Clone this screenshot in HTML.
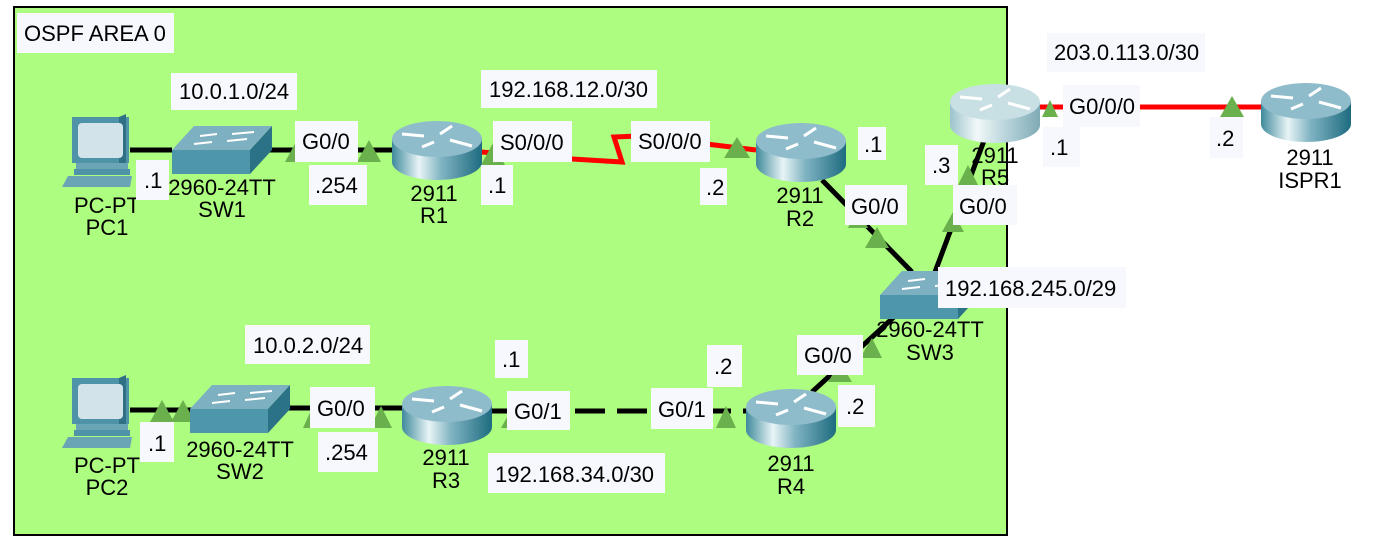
<!DOCTYPE html>
<html><head><meta charset="utf-8"><style>
html,body{margin:0;padding:0;background:#fff;}
svg{display:block;font-family:"Liberation Sans",sans-serif;}
</style></head><body>
<svg width="1388" height="548" viewBox="0 0 1388 548" xmlns="http://www.w3.org/2000/svg">
<defs>
<linearGradient id="rb" x1="0" x2="1" y1="0" y2="0">
<stop offset="0" stop-color="#3f8a9c"/><stop offset="0.3" stop-color="#e8f4f6"/><stop offset="0.55" stop-color="#7fb3c2"/><stop offset="1" stop-color="#1e6b80"/></linearGradient>
<linearGradient id="rb2" x1="0" x2="1" y1="0" y2="0">
<stop offset="0" stop-color="#9cc3cc"/><stop offset="0.3" stop-color="#f2f8f9"/><stop offset="0.6" stop-color="#bcd7dd"/><stop offset="1" stop-color="#7faab6"/></linearGradient>
<g id="router">
<path d="M0,19 L0,42 A45,18 0 0 0 90,42 L90,19 Z" fill="url(#rb)"/>
<ellipse cx="45" cy="19" rx="45" ry="18" fill="#8fbccb"/>
<g stroke="#fff" stroke-width="3" fill="none">
<path d="M10,14 L32,16"/><path d="M48,14 L60,6"/><path d="M58,20 L80,26"/><path d="M30,27 L42,22"/>
</g></g>
<g id="router2">
<path d="M0,19 L0,42 A45,18 0 0 0 90,42 L90,19 Z" fill="url(#rb2)"/>
<ellipse cx="45" cy="19" rx="45" ry="18" fill="#c8dfe4"/>
<g stroke="#fff" stroke-width="3" fill="none">
<path d="M10,14 L32,16"/><path d="M48,14 L60,6"/><path d="M58,20 L80,26"/><path d="M30,27 L42,22"/>
</g></g>
<g id="pc">
<rect x="10" y="0" width="57" height="46" fill="#4f93a8"/>
<polygon points="57,0 64,-3 64,46 57,46" fill="#2f7085"/>
<rect x="16" y="6" width="45" height="35" rx="4" fill="#d2e4ea"/>
<rect x="14" y="46" width="52" height="6" fill="#6aa5b6"/>
<rect x="12" y="52" width="56" height="6" fill="#4f93a8"/>
<polygon points="6,59 70,59 68,70 0,70" fill="#6aa5b6"/>
</g>
<g id="sw">
<polygon points="0,24 22,0 100,0 78,24" fill="#7db0c0"/>
<rect x="0" y="24" width="78" height="24" fill="#4e97ab"/>
<polygon points="78,24 100,0 100,24 78,48" fill="#2b7287"/>
<g stroke="#fff" stroke-width="2"><path d="M28,10 L45,8"/><path d="M60,8 L82,6"/><path d="M22,18 L40,16"/><path d="M55,15 L75,13"/></g>
</g>
</defs>
<rect x="14" y="7" width="993" height="528" fill="#acfd80" stroke="#000" stroke-width="2"/>

<g stroke="#000" stroke-width="5" fill="none">
<line x1="130" y1="150" x2="172" y2="150"/>
<line x1="268" y1="150" x2="392" y2="150"/>
<line x1="130" y1="410" x2="192" y2="410"/>
<line x1="288" y1="408" x2="402" y2="408"/>
<line x1="491" y1="411" x2="746" y2="411" stroke-dasharray="30,12"/>
<line x1="822" y1="180" x2="912" y2="272"/>
<line x1="985" y1="138" x2="935" y2="272"/>
<line x1="895" y1="316" x2="812" y2="392"/>
</g>
<g stroke="#f00" stroke-width="5" fill="none">
<polyline points="481,152 572,159 622,162 614,137 640,136 756,150"/>
<line x1="1040" y1="107" x2="1262" y2="107"/>
</g>

<g fill="#6ab04c">
<polygon points="285,162 297,140 309,162"/>
<polygon points="357,162 369,140 381,162"/>
<polygon points="481,165 493,143 505,165"/>
<polygon points="724,158 737,137 750,158"/>
<polygon points="1042,117 1050,100 1058,117"/>
<polygon points="1220,117 1232,96 1244,117"/>
<polygon points="958,185 968,165 978,185"/>
<polygon points="848,228 858,206 868,228"/>
<polygon points="865,248 877,227 889,248"/>
<polygon points="942,232 953,212 964,232"/>
<polygon points="860,358 872,338 882,358"/>
<polygon points="828,382 840,362 852,382"/>
<polygon points="150,422 162,400 174,422"/>
<polygon points="171,422 183,400 195,422"/>
<polygon points="303,428 313,406 323,428"/>
<polygon points="370,428 381,406 392,428"/>
<polygon points="501,428 510,412 518,428"/>
<polygon points="716,428 726,406 736,428"/>
</g>

<use href="#pc" x="62" y="117"/>
<use href="#pc" x="62" y="378"/>
<use href="#sw" x="172" y="126"/>
<use href="#sw" x="190" y="385"/>
<use href="#sw" x="880" y="271"/>
<use href="#router" x="392" y="120"/>
<use href="#router" x="756" y="122"/>
<use href="#router" x="402" y="385"/>
<use href="#router" x="746" y="388"/>
<use href="#router" x="1261" y="82"/>
<use href="#router2" x="950" y="83"/>

<g font-size="22" fill="#000" text-anchor="middle">
<text x="107" y="213">PC-PT</text><text x="107" y="235">PC1</text>
<text x="107" y="473">PC-PT</text><text x="107" y="495">PC2</text>
<text x="222" y="195">2960-24TT</text><text x="222" y="217">SW1</text>
<text x="240" y="457">2960-24TT</text><text x="240" y="479">SW2</text>
<text x="930" y="337">2960-24TT</text><text x="930" y="360">SW3</text>
<text x="434" y="201">2911</text><text x="434" y="223">R1</text>
<text x="800" y="203">2911</text><text x="800" y="226">R2</text>
<text x="446" y="465">2911</text><text x="446" y="488">R3</text>
<text x="791" y="471">2911</text><text x="791" y="494">R4</text>
<text x="995" y="163">2911</text><text x="995" y="185">R5</text>
<text x="1310" y="165">2911</text><text x="1310" y="188">ISPR1</text>
</g>

<g fill="#f7f8fe">
<rect x="17" y="13" width="157" height="40"/>
<rect x="171" y="73" width="126" height="37"/>
<rect x="295" y="121" width="63" height="41"/>
<rect x="309" y="165" width="58" height="40"/>
<rect x="136" y="160" width="33" height="40"/>
<rect x="481" y="70" width="176" height="38"/>
<rect x="493" y="121" width="79" height="41"/>
<rect x="481" y="165" width="32" height="40"/>
<rect x="631" y="121" width="79" height="41"/>
<rect x="700" y="168" width="27" height="37"/>
<rect x="858" y="127" width="28" height="33"/>
<rect x="845" y="185" width="62" height="40"/>
<rect x="953" y="185" width="64" height="40"/>
<rect x="925" y="145" width="33" height="40"/>
<rect x="1063" y="85" width="77" height="42"/>
<rect x="1043" y="127" width="37" height="40"/>
<rect x="1210" y="117" width="33" height="41"/>
<rect x="1047" y="33" width="158" height="39"/>
<rect x="938" y="267" width="188" height="41"/>
<rect x="797" y="335" width="66" height="40"/>
<rect x="707" y="345" width="35" height="42"/>
<rect x="838" y="385" width="37" height="42"/>
<rect x="245" y="325" width="125" height="39"/>
<rect x="310" y="387" width="65" height="41"/>
<rect x="318" y="432" width="60" height="40"/>
<rect x="140" y="422" width="34" height="40"/>
<rect x="495" y="340" width="33" height="38"/>
<rect x="507" y="391" width="63" height="39"/>
<rect x="651" y="388" width="62" height="41"/>
<rect x="488" y="453" width="177" height="40"/>
</g>
<g font-size="22" fill="#000">
<text x="24" y="41">OSPF AREA 0</text>
<text x="179" y="99">10.0.1.0/24</text>
<text x="302" y="149">G0/0</text>
<text x="315" y="193">.254</text>
<text x="144" y="188">.1</text>
<text x="489" y="97">192.168.12.0/30</text>
<text x="500" y="150">S0/0/0</text>
<text x="488" y="193">.1</text>
<text x="638" y="149">S0/0/0</text>
<text x="706" y="195">.2</text>
<text x="864" y="152">.1</text>
<text x="851" y="214">G0/0</text>
<text x="959" y="214">G0/0</text>
<text x="932" y="173">.3</text>
<text x="1069" y="114">G0/0/0</text>
<text x="1050" y="155">.1</text>
<text x="1216" y="146">.2</text>
<text x="1054" y="60">203.0.113.0/30</text>
<text x="945" y="296">192.168.245.0/29</text>
<text x="804" y="363">G0/0</text>
<text x="714" y="374">.2</text>
<text x="846" y="414">.2</text>
<text x="253" y="353">10.0.2.0/24</text>
<text x="317" y="416">G0/0</text>
<text x="325" y="460">.254</text>
<text x="148" y="451">.1</text>
<text x="502" y="367">.1</text>
<text x="514" y="419">G0/1</text>
<text x="658" y="417">G0/1</text>
<text x="495" y="482">192.168.34.0/30</text>
</g>
</svg>
</body></html>
